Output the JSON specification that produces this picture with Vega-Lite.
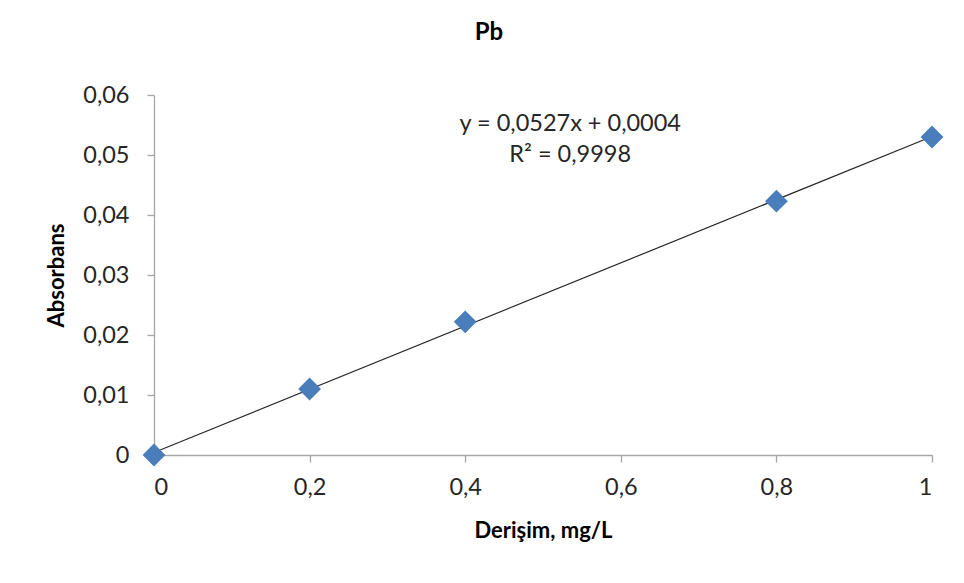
{
  "$schema": "https://vega.github.io/schema/vega-lite/v6.json",
  "autosize": "none",
  "width": 778,
  "height": 360,
  "padding": {"left": 154, "top": 95, "right": 32, "bottom": 128},
  "background": "white",
  "title": {
    "text": "Pb",
    "font": "Lato",
    "fontSize": 24,
    "fontWeight": "bold",
    "color": "#000000",
    "anchor": "middle",
    "dx": -54,
    "offset": 38
  },
  "layer": [
    {
      "data": {"name": "points"},
      "transform": [
        {"regression": "abs", "on": "conc", "method": "linear", "extent": [0, 1]}
      ],
      "mark": {"type": "line", "color": "#262626", "strokeWidth": 1.2},
      "encoding": {
        "x": {"field": "conc", "type": "quantitative"},
        "y": {"field": "abs", "type": "quantitative"}
      }
    },
    {
      "data": {"name": "points"},
      "mark": {"type": "point", "shape": "diamond", "filled": true, "color": "#4a7ebb", "size": 520, "opacity": 1},
      "encoding": {
        "x": {
          "field": "conc",
          "type": "quantitative",
          "scale": {"domain": [0, 1], "nice": false, "zero": true},
          "axis": {
            "title": "Derişim, mg/L",
            "values": [0, 0.2, 0.4, 0.6, 0.8, 1],
            "labelExpr": "replace(format(datum.value, '.1~f'), '.', ',')",
            "grid": false,
            "tickSize": 7,
            "labelPadding": 13,
            "titlePadding": 22
          }
        },
        "y": {
          "field": "abs",
          "type": "quantitative",
          "scale": {"domain": [0, 0.06], "nice": false},
          "axis": {
            "title": "Absorbans",
            "values": [0, 0.01, 0.02, 0.03, 0.04, 0.05, 0.06],
            "labelExpr": "replace(format(datum.value, '.2~f'), '.', ',')",
            "grid": false,
            "tickSize": 7,
            "labelPadding": 18,
            "titlePadding": 14
          }
        }
      }
    },
    {
      "data": {"name": "equation"},
      "mark": {"type": "text", "font": "Lato", "fontSize": 23.5, "fontWeight": "normal", "color": "#262626", "align": "center", "baseline": "middle", "lineHeight": 31},
      "encoding": {
        "x": {"datum": 0.535},
        "y": {"datum": 0.0552},
        "text": {"field": "lines"}
      }
    }
  ],
  "datasets": {
    "points": [
      {"conc": 0, "abs": 0},
      {"conc": 0.2, "abs": 0.011},
      {"conc": 0.4, "abs": 0.0222},
      {"conc": 0.8, "abs": 0.0423},
      {"conc": 1, "abs": 0.053}
    ],
    "equation": [
      {"lines": ["y = 0,0527x + 0,0004", "R² = 0,9998"]}
    ]
  },
  "config": {
    "view": {"stroke": null},
    "axis": {
      "domainColor": "#a6a6a6",
      "tickColor": "#a6a6a6",
      "domainWidth": 1.3,
      "tickWidth": 1.3,
      "labelFont": "Lato",
      "labelFontSize": 23.5,
      "labelColor": "#262626",
      "titleFont": "Lato",
      "titleFontSize": 22,
      "titleFontWeight": "bold",
      "titleColor": "#000000"
    }
  }
}
